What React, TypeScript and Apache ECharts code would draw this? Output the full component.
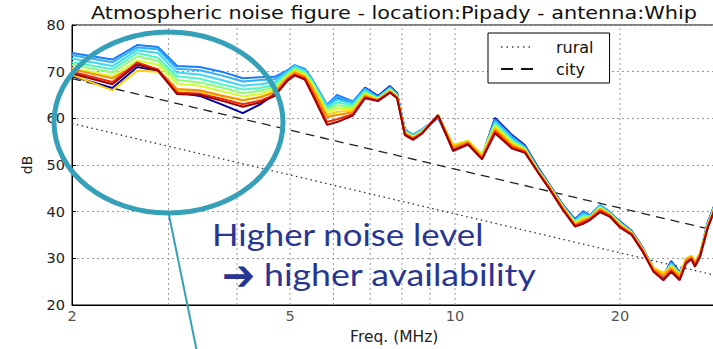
import React, { useEffect, useRef } from 'react';
import * as echarts from 'echarts';

// Frequencies (MHz) at which the measured curves are sampled
const freqs = [2.0, 2.37, 2.63, 2.87, 3.11, 3.42, 3.75, 4.1, 4.41, 4.69, 4.94, 5.1, 5.32, 5.48, 5.84, 6.09, 6.51, 6.85, 7.23, 7.61, 7.84, 8.1, 8.38, 8.7, 9.31, 9.92, 10.56, 11.2, 11.83, 12.71, 13.42, 14.17, 14.91, 15.74, 16.56, 17.12, 17.63, 18.39, 19.18, 20.0, 21.0, 22.0, 23.0, 24.0, 24.8, 25.7, 26.4, 27.0, 27.4, 28.0, 28.9, 30.0];

// Measured noise curves (dB), one per run, coloured blue -> red
const run01 = [69.0, 66.5, 71.0, 70.2, 65.6, 64.8, 63.0, 61.1, 63.0, 65.3, 68.8, 71.0, 70.2, 68.4, 62.6, 64.5, 63.3, 66.6, 64.8, 66.9, 65.4, 57.6, 56.3, 57.3, 60.2, 53.3, 54.5, 51.8, 60.1, 56.4, 54.2, 49.5, 45.6, 41.4, 38.4, 40.0, 39.2, 41.3, 39.8, 37.9, 35.9, 32.3, 28.0, 26.2, 29.4, 27.0, 29.3, 30.0, 28.9, 31.0, 37.6, 42.6];
const run02 = [74.0, 72.6, 75.7, 75.3, 71.2, 71.0, 70.0, 68.6, 68.8, 68.9, 70.3, 71.4, 70.6, 68.5, 62.9, 65.0, 63.6, 66.5, 64.6, 66.7, 65.2, 57.5, 56.5, 57.6, 60.3, 53.6, 54.6, 51.9, 59.8, 56.2, 54.0, 49.3, 45.5, 41.3, 38.3, 40.1, 39.2, 41.4, 39.9, 37.8, 35.8, 32.2, 28.0, 26.1, 29.2, 26.9, 29.4, 30.1, 29.0, 31.0, 37.5, 42.5];
const run03 = [73.5, 72.0, 75.2, 74.8, 70.6, 70.3, 69.2, 67.9, 68.2, 68.4, 70.1, 71.3, 70.4, 68.4, 62.8, 64.6, 63.4, 66.3, 64.5, 66.6, 65.1, 57.4, 56.4, 57.5, 60.4, 53.8, 54.8, 52.0, 59.5, 55.9, 53.8, 49.2, 45.4, 41.2, 38.1, 39.7, 39.1, 41.3, 39.8, 37.7, 35.7, 32.1, 28.0, 26.3, 29.0, 26.8, 29.5, 30.2, 29.0, 31.1, 37.4, 42.4];
const run04 = [72.8, 71.2, 74.6, 74.0, 69.8, 69.4, 68.2, 67.0, 67.3, 67.8, 69.8, 71.1, 70.2, 68.2, 62.5, 64.0, 63.1, 66.0, 64.4, 66.4, 65.0, 57.3, 56.3, 57.4, 60.5, 54.0, 55.0, 52.1, 59.2, 55.6, 53.7, 49.1, 45.3, 41.1, 38.0, 39.4, 39.0, 41.2, 39.7, 37.6, 35.6, 32.1, 27.9, 26.4, 28.8, 26.8, 29.6, 30.3, 29.1, 31.1, 37.3, 42.3];
const run05 = [72.0, 70.5, 74.0, 73.0, 69.0, 68.5, 67.3, 66.2, 66.5, 67.2, 69.5, 70.9, 70.0, 68.0, 62.2, 63.4, 62.8, 65.7, 64.3, 66.3, 64.9, 57.2, 56.2, 57.3, 60.5, 54.2, 55.1, 52.2, 58.9, 55.3, 53.5, 49.0, 45.3, 41.1, 37.8, 39.1, 38.9, 41.0, 39.6, 37.5, 35.6, 32.0, 27.9, 26.5, 28.6, 26.7, 29.7, 30.4, 29.1, 31.2, 37.2, 42.2];
const run06 = [71.5, 69.8, 73.3, 72.3, 68.2, 67.7, 66.6, 65.4, 65.9, 66.7, 69.3, 70.6, 69.7, 67.7, 61.8, 62.8, 62.4, 65.5, 64.2, 66.2, 64.8, 57.1, 56.1, 57.2, 60.6, 54.3, 55.2, 52.3, 58.6, 55.0, 53.4, 48.9, 45.2, 41.0, 37.7, 38.8, 38.8, 40.9, 39.5, 37.4, 35.5, 32.0, 27.8, 26.6, 28.4, 26.6, 29.8, 30.5, 29.2, 31.2, 37.1, 42.1];
const run07 = [70.8, 69.0, 72.4, 71.5, 67.4, 67.0, 65.8, 64.7, 65.2, 66.2, 69.0, 70.3, 69.4, 67.4, 61.3, 62.1, 62.0, 65.3, 64.1, 66.0, 64.7, 57.0, 56.0, 57.1, 60.6, 54.3, 55.2, 52.2, 58.3, 54.8, 53.3, 48.8, 45.2, 41.0, 37.5, 38.6, 38.8, 40.8, 39.4, 37.3, 35.5, 32.0, 27.9, 26.8, 28.3, 26.5, 29.9, 30.5, 29.2, 31.2, 37.0, 42.0];
const run08 = [69.3, 66.0, 70.2, 70.0, 66.0, 65.8, 64.8, 63.8, 64.6, 65.8, 68.8, 70.1, 69.1, 67.1, 60.8, 61.4, 61.6, 65.0, 64.0, 65.9, 64.6, 56.9, 55.9, 57.0, 60.7, 54.2, 55.1, 52.0, 58.0, 54.5, 53.2, 48.7, 45.1, 40.9, 37.3, 38.4, 38.8, 40.7, 39.4, 37.2, 35.4, 31.9, 28.0, 26.9, 28.2, 26.4, 30.0, 30.6, 29.2, 31.1, 36.9, 41.9];
const run09 = [70.5, 68.6, 71.5, 70.5, 66.3, 66.0, 64.9, 63.9, 64.5, 65.6, 68.6, 69.8, 68.9, 66.6, 60.3, 60.7, 61.3, 64.8, 63.9, 65.8, 64.5, 56.8, 55.8, 56.9, 60.7, 53.8, 54.9, 51.7, 57.6, 54.2, 53.0, 48.6, 45.0, 40.7, 37.2, 38.1, 38.6, 40.5, 39.3, 37.0, 35.3, 31.8, 27.7, 26.3, 27.8, 26.0, 29.6, 30.3, 28.9, 30.9, 36.8, 41.8];
const run10 = [70.0, 67.8, 72.0, 70.5, 65.5, 65.3, 64.2, 63.0, 63.8, 65.0, 68.3, 69.4, 68.6, 65.8, 59.2, 59.8, 60.9, 64.5, 63.8, 65.6, 64.4, 56.6, 55.6, 56.8, 60.7, 53.2, 54.6, 51.4, 57.2, 53.8, 52.8, 48.5, 44.8, 40.5, 37.0, 37.7, 38.4, 40.2, 39.1, 36.8, 35.2, 31.6, 27.4, 25.6, 27.4, 25.6, 29.2, 30.0, 28.5, 30.6, 36.6, 41.6];
const run11 = [69.6, 67.3, 71.6, 70.2, 65.2, 65.0, 63.8, 62.5, 63.4, 64.8, 68.0, 69.2, 68.3, 65.3, 58.6, 59.2, 60.6, 64.3, 63.7, 65.5, 64.3, 56.4, 55.4, 56.7, 60.6, 53.0, 54.4, 51.2, 56.8, 53.5, 52.6, 48.4, 44.6, 40.3, 36.8, 37.4, 38.2, 39.9, 38.9, 36.6, 35.0, 31.4, 27.2, 25.3, 27.1, 25.3, 28.9, 29.8, 28.2, 30.3, 36.4, 41.4];

const runs = [run01, run02, run03, run04, run05, run06, run07, run08, run09, run10, run11];
const runColors = ['#0000a8', '#1a7cff', '#2fb0ff', '#3ed8f5', '#4ff5c8', '#8cff70', '#d0ff30', '#ffd200', '#ff8c00', '#f22a00', '#9c0000'];

// Reference man-made noise lines (straight in log-frequency)
const refFreqs = [2, 30];
const ruralDb = [58.9, 26.3];
const cityDb = [68.5, 35.9];

// Axis ticks
const yMin = 20;
const yMax = 80;
const xGridFreqs = [3, 4, 5, 6, 7, 8, 9, 10, 20];
const xTickLabels = [2, 5, 10, 20];

const FONT = 'DejaVu Sans';
const TITLE = 'Atmospheric noise figure - location:Pipady - antenna:Whip';

export default function App() {
  const ref = useRef<HTMLDivElement>(null);
  useEffect(() => {
    document.body.style.margin = '0';
    const chart = echarts.init(ref.current!, undefined, { renderer: 'svg' });
    const gridSeries = xGridFreqs.map((f) => ({
      name: 'grid' + f,
      type: 'line',
      symbol: 'none',
      silent: true,
      data: [[f, yMin], [f, yMax]],
      lineStyle: { type: [2, 3], color: '#999', width: 1 },
      z: 0,
    }));
    const option: any = {
      animation: false,
      backgroundColor: '#fff',
      grid: {
        left: 72,
        top: 25,
        right: -3.5,
        bottom: 44,
        show: true,
        borderColor: '#000',
        borderWidth: 1,
        outerBoundsMode: 'none',
      },
      legend: {
        data: [
          { name: 'rural', lineStyle: { type: [1.5, 4], color: '#777' } },
          { name: 'city', lineStyle: { type: [12, 8], color: '#111' } },
        ],
        orient: 'vertical',
        left: 488,
        top: 33,
        padding: [6, 16, 6, 12],
        itemGap: 6,
        itemWidth: 32,
        itemHeight: 14,
        borderColor: '#000',
        borderWidth: 1,
        borderRadius: 0,
        backgroundColor: '#fff',
        itemStyle: { opacity: 0 },
        textStyle: { fontSize: 16, color: '#111', fontFamily: FONT, padding: [0, 0, 0, 18] },
      },
      xAxis: {
        type: 'log',
        logBase: 10,
        min: 2,
        max: 30,
        name: 'Freq. (MHz)',
        nameLocation: 'middle',
        nameGap: 24,
        nameTextStyle: { fontSize: 15.5, color: '#222', fontFamily: FONT },
        axisLine: { show: true, lineStyle: { color: '#000', width: 1 } },
        axisTick: { show: false },
        axisLabel: { show: false },
        splitLine: { show: false },
        minorTick: { show: false },
      },
      yAxis: {
        type: 'value',
        min: yMin,
        max: yMax,
        interval: 10,
        name: 'dB',
        nameLocation: 'middle',
        nameRotate: 90,
        nameGap: 38,
        nameTextStyle: { fontSize: 14, color: '#222', fontFamily: FONT },
        axisLine: { show: true, lineStyle: { color: '#000', width: 1 } },
        axisTick: { show: true, inside: true, length: 4, lineStyle: { color: '#000' } },
        axisLabel: { margin: 7, fontSize: 14.5, color: '#222', fontFamily: FONT },
        splitLine: { show: true, lineStyle: { type: [2, 3], color: '#999', width: 1 } },
      },
      series: [
        ...gridSeries,
        {
          name: 'xlabels',
          type: 'scatter',
          silent: true,
          clip: false,
          symbolSize: 0,
          data: xTickLabels.map((f) => [f, yMin]),
          label: {
            show: true,
            position: 'bottom',
            distance: 3,
            formatter: (p: any) => String(p.value[0]),
            color: '#222',
            fontSize: 14.5,
            fontFamily: FONT,
          },
          z: 5,
        },
        {
          name: 'rural',
          type: 'line',
          symbol: 'none',
          silent: true,
          data: refFreqs.map((f, i) => [f, ruralDb[i]]),
          lineStyle: { color: '#333', width: 1.3, type: [1.5, 3.5] },
          itemStyle: { color: '#333', opacity: 0 },
          z: 1,
        },
        {
          name: 'city',
          type: 'line',
          symbol: 'none',
          silent: true,
          data: refFreqs.map((f, i) => [f, cityDb[i]]),
          lineStyle: { color: '#222', width: 1.3, type: [9, 6] },
          itemStyle: { color: '#222', opacity: 0 },
          z: 1,
        },
        ...runs.map((vals, k) => ({
          name: 'run' + (k + 1),
          type: 'line',
          symbol: 'none',
          silent: true,
          data: freqs.map((f, i) => [f, vals[i]]),
          lineStyle: { color: runColors[k], width: 2 },
          itemStyle: { color: runColors[k] },
          z: 3,
        })),
      ],
      graphic: [
        {
          type: 'text',
          z: 100,
          silent: true,
          x: 394,
          y: 13,
          scaleX: 1.19,
          style: { text: TITLE, fill: '#111', font: '17.5px "DejaVu Sans"', align: 'center', verticalAlign: 'middle' },
        },
        {
          type: 'ellipse',
          z: 100,
          silent: true,
          shape: { cx: 168.5, cy: 122.5, rx: 114.5, ry: 90.5 },
          style: { fill: 'none', stroke: '#35a0b8', lineWidth: 5 },
        },
        {
          type: 'line',
          z: 100,
          silent: true,
          shape: { x1: 169, y1: 215, x2: 197, y2: 352 },
          style: { stroke: '#35a0b8', lineWidth: 2 },
        },
        {
          type: 'text',
          z: 100,
          silent: true,
          x: 212,
          y: 234,
          scaleX: 1.16,
          style: { text: 'Higher noise level', fill: '#283593', font: '30px Lato', verticalAlign: 'middle' },
        },
        {
          type: 'text',
          z: 100,
          silent: true,
          x: 222,
          y: 276,
          scaleX: 1.32,
          scaleY: 1.4,
          style: { text: '\u2794', fill: '#283593', font: 'bold 30px "DejaVu Sans"', verticalAlign: 'middle' },
        },
        {
          type: 'text',
          z: 100,
          silent: true,
          x: 264,
          y: 274,
          scaleX: 1.19,
          style: { text: 'higher availability', fill: '#283593', font: '30px Lato', verticalAlign: 'middle' },
        },
      ],
    };
    chart.setOption(option);
    return () => chart.dispose();
  }, []);
  return <div ref={ref} style={{ width: 713, height: 349, position: 'absolute', left: 0, top: 0, background: '#fff' }} />;
}
